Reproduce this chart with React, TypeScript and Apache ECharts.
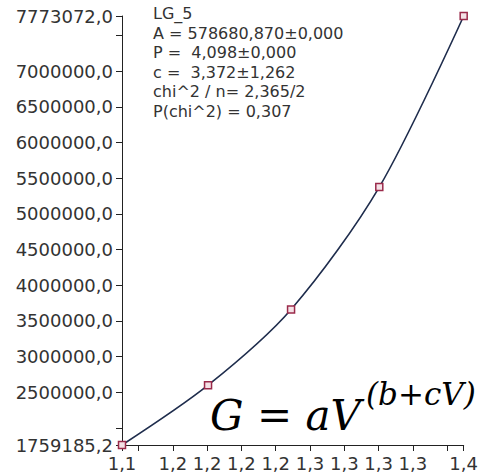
import React, { useEffect, useRef } from "react";
import * as echarts from "echarts";

// Data
const xValues = [1.113, 1.1757, 1.2362, 1.3005, 1.362];
const yValues = [1759185.2, 2598000, 3660000, 5375000, 7773072];

const xMin = 1.113;
const xMax = 1.362;
const yMin = 1759185.2;
const yMax = 7773072;

const xTickValues = [xMin, 1.125, 1.15, 1.175, 1.2, 1.225, 1.25, 1.275, 1.3, 1.325, 1.35, xMax];
const xLabelValues = [xMin, 1.15, 1.175, 1.2, 1.225, 1.25, 1.275, 1.3, 1.325, xMax];
const yTickValues = [yMin, 2000000, 2500000, 3000000, 3500000, 4000000, 4500000, 5000000, 5500000, 6000000, 6500000, 7000000, 7500000, yMax];
const yLabelValues = [yMin, 2500000, 3000000, 3500000, 4000000, 4500000, 5000000, 5500000, 6000000, 6500000, 7000000, yMax];

const fitLines = [
  "LG_5",
  "A = 578680,870±0,000",
  "P =  4,098±0,000",
  "c =  3,372±1,262",
  "chi^2 / n= 2,365/2",
  "P(chi^2) = 0,307",
];

const formulaMain = "G = aV";
const formulaSup = "(b+cV)";

export default function App() {
  const ref = useRef<HTMLDivElement>(null);
  useEffect(() => {
    if (!ref.current) return;
    const chart = echarts.init(ref.current, null, { renderer: "svg" });
    const textColor = "#333";
    const font = "DejaVu Sans";
    chart.setOption({
      animation: false,
      backgroundColor: "#fff",
      grid: { left: 122, top: 16, right: 11, bottom: 28, containLabel: false },
      xAxis: {
        type: "value",
        min: xMin,
        max: xMax,
        splitLine: { show: false },
        axisLine: { show: true, lineStyle: { color: "#222", width: 1 } },
        axisTick: { show: true, length: 6, customValues: xTickValues, lineStyle: { color: "#222" } },
        axisLabel: {
          customValues: xLabelValues,
          color: textColor,
          fontFamily: font,
          fontSize: 18,
          margin: 9,
          formatter: (v: number) => (v + 1e-9).toFixed(1).replace(".", ","),
        },
      },
      yAxis: {
        type: "value",
        min: yMin,
        max: yMax,
        splitLine: { show: false },
        axisLine: { show: true, lineStyle: { color: "#222", width: 1 } },
        axisTick: { show: true, length: 6, customValues: yTickValues, lineStyle: { color: "#222" } },
        axisLabel: {
          customValues: yLabelValues,
          color: textColor,
          fontFamily: font,
          fontSize: 18,
          margin: 9,
          formatter: (v: number) => v.toFixed(1).replace(".", ","),
        },
      },
      series: [
        {
          type: "line",
          data: xValues.map((x, i) => [x, yValues[i]]),
          smooth: 0.3,
          lineStyle: { color: "#1f2d4d", width: 1.6 },
          symbol: "rect",
          symbolSize: 7,
          itemStyle: { color: "#f4e1e6", borderColor: "#9a2a4a", borderWidth: 1.5 },
          z: 3,
        },
      ],
      graphic: [
        {
          type: "text",
          left: 153,
          top: 4,
          style: {
            text: fitLines.join("\n"),
            font: `16px "${font}"`,
            lineHeight: 19.5,
            fill: textColor,
          },
        },
        {
          type: "text",
          left: 210,
          top: 394,
          style: {
            text: formulaMain,
            font: 'italic 42px "DejaVu Serif"',
            fill: "#000",
          },
        },
        {
          type: "text",
          left: 366,
          top: 378,
          style: {
            text: formulaSup,
            font: 'italic 31px "DejaVu Serif"',
            fill: "#000",
          },
        },
      ],
    });
    return () => chart.dispose();
  }, []);
  return (
    <div
      ref={ref}
      style={{ position: "fixed", left: 0, top: 0, width: 481, height: 473 }}
    />
  );
}
